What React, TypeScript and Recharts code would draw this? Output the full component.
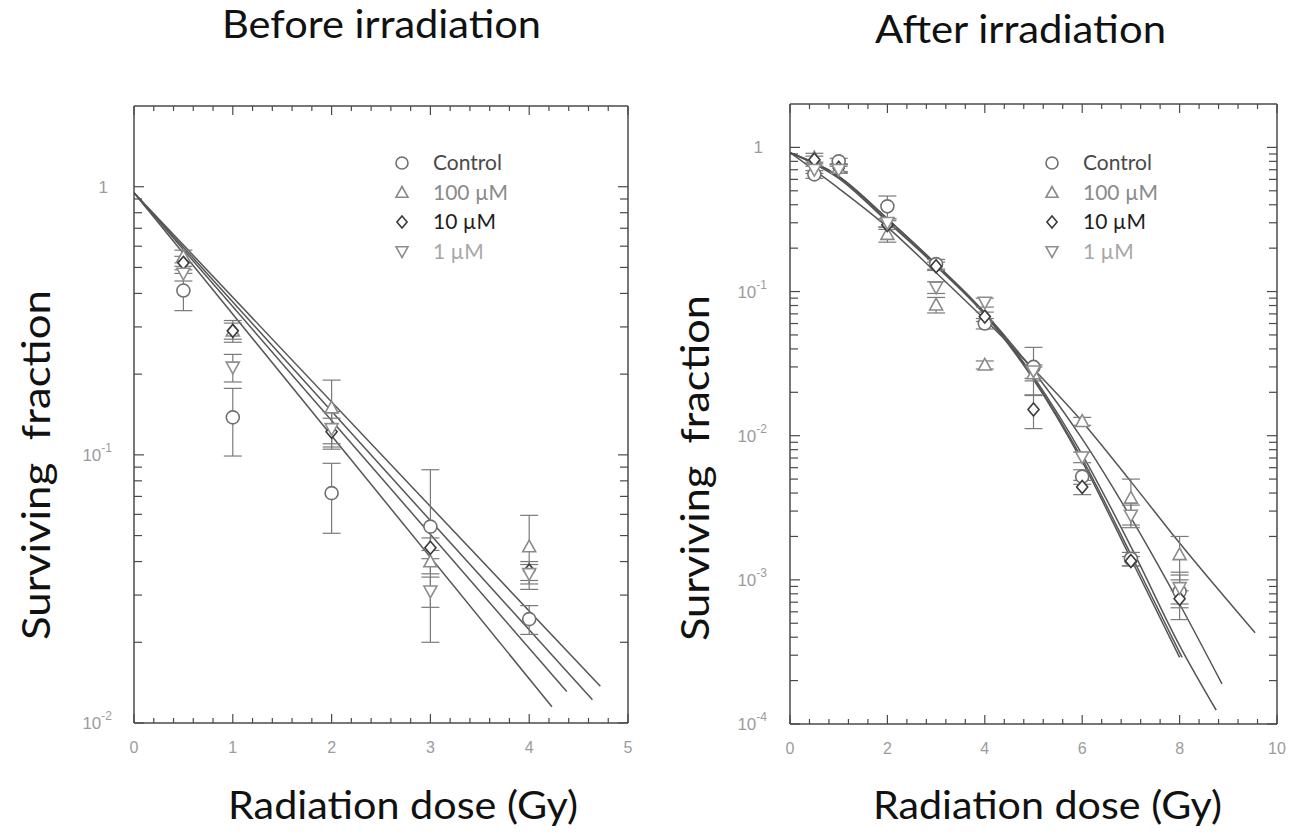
import { ComposedChart, Line, Scatter, XAxis, YAxis, ErrorBar } from 'recharts';

// series labels + marker styles
const groups = ['Control', '100 µM', '10 µM', '1 µM'];
const markerKinds = ['circle', 'triangle', 'diamond', 'invtriangle'];
const markerColors = ['#707070', '#8a8a8a', '#3a3a3a', '#8e8e8e'];
const legendColors = ['#4a4a4a', '#8a8a8a', '#1e1e1e', '#a8a8a8'];

// ---- Before irradiation ----
const beforeDose = [0.5, 1, 2, 3, 4];
const beforeControl = [0.41, 0.138, 0.072, 0.054, 0.0244];
const beforeControlErr = [0.065, 0.039, 0.021, 0.034, 0.003];
const before100 = [0.55, 0.29, 0.15, 0.04, 0.0455];
const before100Err = [0.03, 0.027, 0.04, 0.004, 0.014];
const before10 = [0.52, 0.29, 0.122, 0.045, 0.037];
const before10Err = [0.03, 0.02, 0.015, 0.004, 0.003];
const before1 = [0.475, 0.212, 0.125, 0.031, 0.036];
const before1Err = [0.03, 0.025, 0.02, 0.004, 0.003];

// fitted lines (start and end)
const beforeFitX = [[0, 4.23], [0, 4.38], [0, 4.64], [0, 4.72]];
const beforeFitY = [[0.95, 0.0115], [0.95, 0.0131], [0.95, 0.0122], [0.95, 0.0137]];

// ---- After irradiation ----
const afterDose = [0.5, 1, 2, 3, 4, 5, 6, 7, 8];
const afterControl = [0.65, 0.8, 0.39, 0.155, 0.06, 0.03, 0.0052, 0.0014, 0.00083];
const afterControlErr = [0.04, 0.04, 0.07, 0.012, 0.005, 0.011, 0.0006, 0.00015, 0.0003];
const after100 = [0.85, 0.72, 0.25, 0.081, 0.031, 0.027, 0.0126, 0.0037, 0.0015];
const after100Err = [0.06, 0.05, 0.03, 0.01, 0.002, 0.003, 0.0008, 0.0013, 0.0005];
const after10 = [0.82, 0.72, 0.29, 0.15, 0.067, 0.0152, 0.0044, 0.00135, 0.00074];
const after10Err = [0.05, 0.04, 0.02, 0.01, 0.005, 0.004, 0.0005, 0.0001, 0.0001];
const after1 = [0.7, 0.7, 0.3, 0.107, 0.084, 0.028, 0.0071, 0.0028, 0.00088];
const after1Err = [0.04, 0.04, 0.02, 0.01, 0.006, 0.003, 0.0006, 0.0005, 0.0002];

// fitted curves, read at whole doses
const afterFitX = [
  [0, 1, 2, 3, 4, 5, 6, 7, 8, 9.55],
  [0, 1, 2, 3, 4, 5, 6, 7, 8, 8.87],
  [0, 1, 2, 3, 4, 5, 6, 7, 8, 8.75],
  [0, 1, 2, 3, 4, 5, 6, 7, 8.05],
  [0, 1, 2, 3, 4, 5, 6, 7, 8.0],
];
const afterFitY = [
  [0.92, 0.52, 0.28, 0.135, 0.064, 0.029, 0.0125, 0.0048, 0.0018, 0.00043],
  [0.92, 0.63, 0.32, 0.155, 0.071, 0.028, 0.0095, 0.0027, 0.00068, 0.00019],
  [0.92, 0.63, 0.32, 0.155, 0.071, 0.0257, 0.0074, 0.0017, 0.00035, 0.000125],
  [0.92, 0.62, 0.31, 0.152, 0.07, 0.025, 0.0069, 0.0015, 0.00029],
  [0.92, 0.61, 0.305, 0.15, 0.069, 0.0245, 0.0066, 0.0014, 0.00029],
];

// axis tick labels
const beforeXMajor = [0, 1, 2, 3, 4, 5];
const afterXMajor = [0, 2, 4, 6, 8, 10];

const axisColor = '#4a4a4a';
const labelColor = '#9c9c9c';
const fitColor = '#555';
const textFont = 'Lato, "Open Sans", sans-serif';
const tickFont = '"Liberation Sans", Arial, sans-serif';

const r3 = (v: number) => parseFloat(v.toPrecision(6));

function minorTicks(max: number, step: number) {
  const out: number[] = [];
  for (let k = 0; k * step <= max + 1e-9; k++) out.push(r3(k * step));
  return out;
}

function logTicks(lo: number, hi: number) {
  const out: number[] = [];
  for (let e = lo; e <= hi; e++) {
    for (let d = 1; d <= 9; d++) {
      const v = r3(d * Math.pow(10, e));
      if (v >= Math.pow(10, lo) && v <= Math.pow(10, hi)) out.push(v);
    }
  }
  return out;
}

const isDecade = (v: number) => Math.abs(Math.log10(v) - Math.round(Math.log10(v))) < 1e-6;

function pts(xs: number[], ys: number[], errs?: number[]) {
  return xs.map((x, i) => ({ x, y: ys[i], err: errs ? errs[i] : 0 }));
}

function Marker({ cx, cy, kind, color, r = 6.5 }: any) {
  if (cx == null || cy == null || isNaN(cx) || isNaN(cy)) return null;
  const st = { fill: '#fff', stroke: color, strokeWidth: 1.6 };
  if (kind === 'circle') return <circle cx={cx} cy={cy} r={r} {...st} />;
  if (kind === 'triangle')
    return <polygon points={`${cx},${cy - r} ${cx + r},${cy + r * 0.8} ${cx - r},${cy + r * 0.8}`} {...st} />;
  if (kind === 'diamond')
    return <polygon points={`${cx},${cy - r} ${cx + r * 0.85},${cy} ${cx},${cy + r} ${cx - r * 0.85},${cy}`} {...st} />;
  return <polygon points={`${cx},${cy + r} ${cx + r},${cy - r * 0.8} ${cx - r},${cy - r * 0.8}`} {...st} />;
}

function BottomTick({ x, y, payload, majors }: any) {
  const v = payload.value;
  const major = majors.includes(v);
  return (
    <g>
      <line x1={x} x2={x} y1={y} y2={y - (major ? 9 : 5)} stroke={axisColor} strokeWidth={1.2} />
      {major && (
        <text x={x} y={y + 30} textAnchor="middle" fontSize={16} fill={labelColor} fontFamily={tickFont}>
          {v}
        </text>
      )}
    </g>
  );
}

function TopTick({ x, y, payload, majors }: any) {
  const major = majors.includes(payload.value);
  return <line x1={x} x2={x} y1={y} y2={y + (major ? 9 : 5)} stroke={axisColor} strokeWidth={1.2} />;
}

function LeftTick({ x, y, payload, gap }: any) {
  const v = payload.value;
  const major = isDecade(v);
  const e = Math.round(Math.log10(v));
  return (
    <g>
      <line x1={x} x2={x + (major ? 10 : 8)} y1={y} y2={y} stroke={axisColor} strokeWidth={1.2} />
      {major &&
        (e === 0 ? (
          <text x={x - gap - 4} y={y + 6} textAnchor="end" fontSize={17} fill={labelColor} fontFamily={tickFont}>
            1
          </text>
        ) : (
          <text x={x - gap} y={y + 6} textAnchor="end" fontSize={17} fill={labelColor} fontFamily={tickFont}>
            <tspan>10</tspan>
            <tspan dy={-9} fontSize={12}>
              {e}
            </tspan>
          </text>
        ))}
    </g>
  );
}

function RightTick({ x, y, payload }: any) {
  const major = isDecade(payload.value);
  return <line x1={x} x2={x - (major ? 10 : 8)} y1={y} y2={y} stroke={axisColor} strokeWidth={1.2} />;
}

function Panel({ left, width, margin, yWidth, xDomain, xTicks, xMajor, yDomain, yTicks, yGap, fits, curve, sets }: any) {
  const axisLine = { stroke: axisColor, strokeWidth: 1.5 };
  return (
    <div style={{ position: 'absolute', left, top: 0 }}>
      <ComposedChart width={width} height={836} margin={margin}>
        <XAxis
          type="number"
          dataKey="x"
          domain={xDomain}
          ticks={xTicks}
          interval={0}
          allowDataOverflow
          height={1}
          tickSize={0}
          tickMargin={0}
          tickLine={false}
          axisLine={axisLine}
          tick={(p: any) => <BottomTick {...p} majors={xMajor} />}
        />
        <XAxis
          xAxisId="top"
          orientation="top"
          type="number"
          dataKey="x"
          domain={xDomain}
          ticks={xTicks}
          interval={0}
          allowDataOverflow
          height={1}
          tickSize={0}
          tickMargin={0}
          tickLine={false}
          axisLine={axisLine}
          tick={(p: any) => <TopTick {...p} majors={xMajor} />}
        />
        <YAxis
          type="number"
          dataKey="y"
          scale="log"
          domain={yDomain}
          ticks={yTicks}
          interval={0}
          allowDataOverflow
          width={yWidth}
          tickSize={0}
          tickMargin={0}
          tickLine={false}
          axisLine={axisLine}
          tick={(p: any) => <LeftTick {...p} gap={yGap} />}
        />
        <YAxis
          yAxisId="right"
          orientation="right"
          type="number"
          dataKey="y"
          scale="log"
          domain={yDomain}
          ticks={yTicks}
          interval={0}
          allowDataOverflow
          width={1}
          tickSize={0}
          tickMargin={0}
          tickLine={false}
          axisLine={axisLine}
          tick={(p: any) => <RightTick {...p} />}
        />
        {fits.map((f: any, i: number) => (
          <Line
            key={'fit' + i}
            data={f}
            dataKey="y"
            type={curve}
            stroke={fitColor}
            strokeWidth={1.5}
            dot={false}
            activeDot={false}
            isAnimationActive={false}
          />
        ))}
        {sets.map((s: any, i: number) => (
          <Scatter
            key={'set' + i}
            name={s.name}
            data={s.points}
            isAnimationActive={false}
            shape={(p: any) => <Marker cx={p.cx} cy={p.cy} kind={s.kind} color={s.color} />}
          >
            <ErrorBar dataKey="err" direction="y" width={9} stroke="#7a7a7a" strokeWidth={1.2} isAnimationActive={false} />
          </Scatter>
        ))}
      </ComposedChart>
    </div>
  );
}

function Legend({ x, y }: { x: number; y: number }) {
  return (
    <>
      {groups.map((g, i) => (
        <g key={g}>
          <Marker cx={x} cy={y + i * 29.5} kind={markerKinds[i]} color={markerColors[i]} r={6} />
          <text x={x + 31} y={y + i * 29.5 + 7} fontSize={21} fill={legendColors[i]} fontFamily={textFont}>
            {g}
          </text>
        </g>
      ))}
    </>
  );
}

export default function App() {
  const beforeVals = [beforeControl, before100, before10, before1];
  const beforeErrs = [beforeControlErr, before100Err, before10Err, before1Err];
  const afterVals = [afterControl, after100, after10, after1];
  const afterErrs = [afterControlErr, after100Err, after10Err, after1Err];

  const beforeSets = groups.map((g, i) => ({
    name: g,
    kind: markerKinds[i],
    color: markerColors[i],
    points: pts(beforeDose, beforeVals[i], beforeErrs[i]),
  }));
  const afterSets = groups.map((g, i) => ({
    name: g,
    kind: markerKinds[i],
    color: markerColors[i],
    points: pts(afterDose, afterVals[i], afterErrs[i]),
  }));
  const beforeFits = beforeFitX.map((xs, i) => pts(xs, beforeFitY[i]));
  const afterFits = afterFitX.map((xs, i) => pts(xs, afterFitY[i]));

  const big = { fontFamily: textFont, fontSize: 39, fill: '#111', lengthAdjust: 'spacingAndGlyphs' } as const;

  return (
    <div style={{ position: 'absolute', left: 0, top: 0, width: 1315, height: 836, background: '#fff' }}>
      <Panel
        left={0}
        width={650}
        margin={{ top: 105, right: 21, bottom: 112, left: 0 }}
        yWidth={134}
        xDomain={[0, 5]}
        xTicks={minorTicks(5, 0.2)}
        xMajor={beforeXMajor}
        yDomain={[0.01, 2]}
        yTicks={logTicks(-2, 0)}
        yGap={22}
        fits={beforeFits}
        curve="linear"
        sets={beforeSets}
      />
      <Panel
        left={660}
        width={655}
        margin={{ top: 103, right: 37, bottom: 111, left: 0 }}
        yWidth={130}
        xDomain={[0, 10]}
        xTicks={minorTicks(10, 0.4)}
        xMajor={afterXMajor}
        yDomain={[0.0001, 2]}
        yTicks={logTicks(-4, 0)}
        yGap={23}
        fits={afterFits}
        curve="monotone"
        sets={afterSets}
      />
      <svg width={1315} height={836} style={{ position: 'absolute', left: 0, top: 0, pointerEvents: 'none' }}>
        <text x={222} y={38} textLength={319} {...big}>Before irradiation</text>
        <text x={875} y={43} textLength={291} {...big}>After irradiation</text>
        <text x={228} y={819} textLength={350} {...big}>Radiation dose (Gy)</text>
        <text x={873} y={819} textLength={349} {...big}>Radiation dose (Gy)</text>
        <text x={50} y={640} transform="rotate(-90 50 640)" textLength={350} {...big} xmlSpace="preserve">
          Surviving  fraction
        </text>
        <text x={709} y={641} transform="rotate(-90 709 641)" textLength={346} {...big} xmlSpace="preserve">
          Surviving  fraction
        </text>
        <Legend x={402} y={163} />
        <Legend x={1052} y={163} />
      </svg>
    </div>
  );
}
